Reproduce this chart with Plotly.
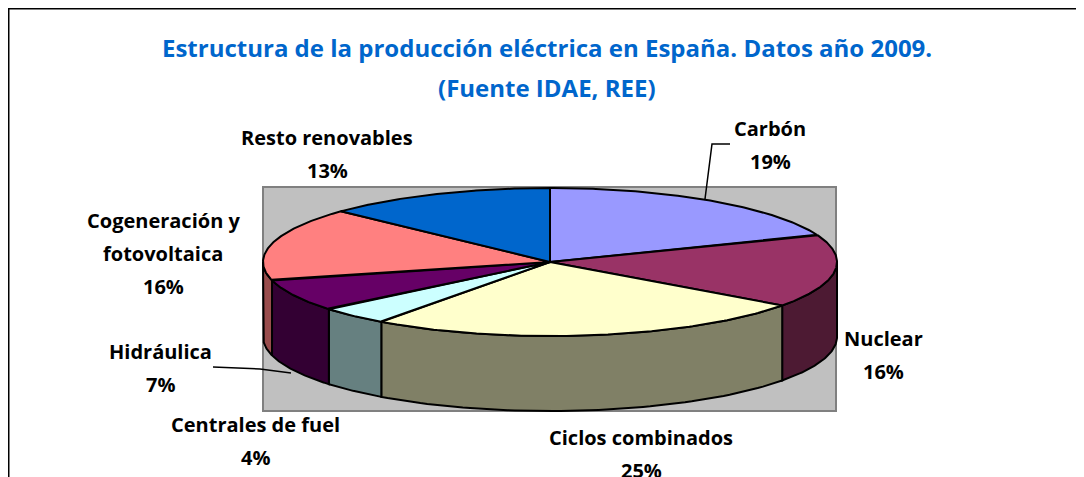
import numpy as np
import plotly.graph_objects as go

# ---- data ----
categories = ["Carbón", "Nuclear", "Ciclos combinados", "Centrales de fuel",
              "Hidráulica", "Cogeneración y fotovoltaica", "Resto renovables"]
values = [19, 16, 25, 4, 7, 16, 13]
label_lines = [["Carbón"], ["Nuclear"], ["Ciclos combinados"], ["Centrales de fuel"],
               ["Hidráulica"], ["Cogeneración y", "fotovoltaica"], ["Resto renovables"]]
top_colors = ["#9999FF", "#993366", "#FFFFCC", "#CCFFFF", "#660066", "#FF8080", "#0066CC"]
side_colors = ["#4D4D80", "#4D1A33", "#808066", "#668080", "#330033", "#994D4D", "#003366"]

title_lines = ["Estructura de la producción eléctrica en España. Datos año 2009.",
               "(Fuente IDAE, REE)"]

# ---- geometry (page pixel space; body margin 8px) ----
W, H = 1084, 477
OFF = 8
cx, cy, rx, ry, depth = 550, 262, 287, 74, 75
FONT = "Open Sans"

def pt(theta_deg, dy=0.0):
    t = np.radians(theta_deg)
    return cx + rx * np.sin(t), cy - ry * np.cos(t) + dy

fig = go.Figure()

total = float(sum(values))
angles = np.concatenate([[0], np.cumsum(values) / total * 360.0])

# sides (front half: theta in [90, 270])
for i in range(len(values)):
    a0, a1 = max(angles[i], 90), min(angles[i + 1], 270)
    if a1 <= a0:
        continue
    th = np.linspace(a0, a1, 60)
    xt, yt = pt(th)
    xb, yb = pt(th[::-1], depth)
    xs = np.concatenate([xt, xb, [xt[0]]])
    ys = np.concatenate([yt, yb, [yt[0]]])
    fig.add_trace(go.Scatter(x=xs, y=ys, fill="toself", fillcolor=side_colors[i],
                             mode="lines", line=dict(color="black", width=2),
                             hoverinfo="skip", showlegend=False))

# top slices
for i in range(len(values)):
    th = np.linspace(angles[i], angles[i + 1], 120)
    xa, ya = pt(th)
    xs = np.concatenate([[cx], xa, [cx]])
    ys = np.concatenate([[cy], ya, [cy]])
    fig.add_trace(go.Scatter(x=xs, y=ys, fill="toself", fillcolor=top_colors[i],
                             mode="lines", line=dict(color="black", width=2),
                             name=categories[i], hoverinfo="name", showlegend=False))

# labels: (x center, y of first line)
label_pos = [(770, 128), (883, 338), (641, 437), (255, 424), (160, 351), (163, 220), (327, 137)]
LINE_GAP = 33
for i, (lx, ly) in enumerate(label_pos):
    pct = round(values[i] / total * 100)
    lines = label_lines[i] + [f"{pct}%"]
    for k, ln in enumerate(lines):
        fig.add_annotation(x=lx, y=ly + k * LINE_GAP, xref="x", yref="y", showarrow=False,
                           text=f"<b>{ln}</b>",
                           font=dict(family=FONT, size=20, color="black"),
                           align="center", yanchor="middle")

# leader lines
fig.add_trace(go.Scatter(x=[730, 712, 705], y=[144, 144, 199], mode="lines",
                         line=dict(color="black", width=1.5), hoverinfo="skip", showlegend=False))
fig.add_trace(go.Scatter(x=[213, 260, 291], y=[367, 369, 373], mode="lines",
                         line=dict(color="black", width=1.5), hoverinfo="skip", showlegend=False))

# title
for k, ln in enumerate(title_lines):
    fig.add_annotation(x=547, y=47 + k * 40, xref="x", yref="y", showarrow=False,
                       text=f"<b>{ln}</b>", align="center", yanchor="middle",
                       font=dict(family=FONT, size=24, color="#0066CC"))

fig.update_layout(
    width=W - OFF, height=H - OFF, margin=dict(l=0, r=0, t=0, b=0),
    paper_bgcolor="white", plot_bgcolor="white",
    xaxis=dict(range=[OFF, W], visible=False, fixedrange=True),
    yaxis=dict(range=[H, OFF], visible=False, fixedrange=True),
    shapes=[
        dict(type="rect", xref="x", yref="y", x0=263, x1=836, y0=187, y1=411,
             fillcolor="#C0C0C0", line=dict(color="#808080", width=2), layer="below"),
        dict(type="line", xref="paper", yref="paper", x0=0, x1=1, y0=1, y1=1,
             line=dict(color="black", width=3)),
        dict(type="line", xref="paper", yref="paper", x0=0, x1=0, y0=0, y1=1,
             line=dict(color="black", width=3)),
    ],
)

fig.write_html("out.html")
